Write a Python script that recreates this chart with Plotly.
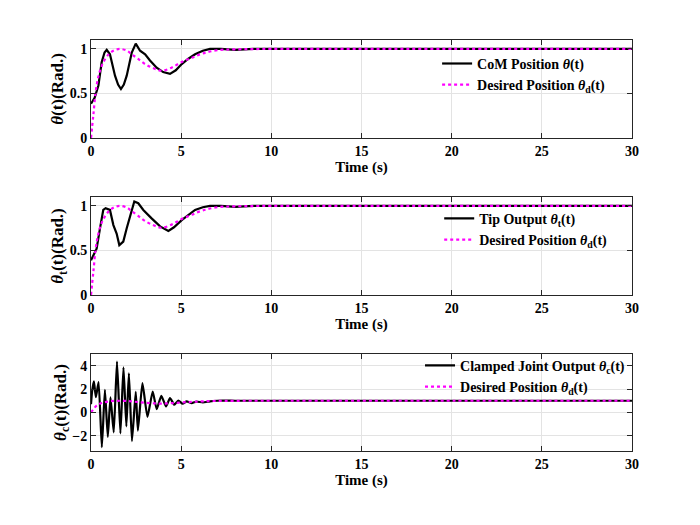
import plotly.graph_objects as go
from plotly.subplots import make_subplots

# --- DATA ---
# desired trajectory, shared by all three panels
t_des = [0, 0.13, 0.31, 0.59, 0.98, 1.3, 1.61, 2.0, 2.26, 2.6, 3.0, 3.5, 3.92,
         4.47, 5.0, 5.58, 6.2, 7.0, 8.0, 10, 15, 20, 30]
y_des = [0, 0.26, 0.59, 0.81, 0.94, 0.985, 1.0, 0.98, 0.94, 0.89, 0.83, 0.78, 0.755,
         0.79, 0.85, 0.90, 0.95, 0.985, 0.995, 1.0, 1.0, 1.0, 1.0]

# CoM position
t_com = [0, 0.2, 0.41, 0.59, 0.75, 0.87, 1.05, 1.33, 1.5, 1.66, 1.82, 1.98, 2.26,
         2.48, 2.72, 3.0, 3.27, 3.64, 4.0, 4.38, 4.7, 5.03, 5.4, 5.77, 6.2, 6.6,
         7.2, 8.0, 9.0, 10, 15, 20, 30]
y_com = [0.385, 0.45, 0.59, 0.85, 0.96, 0.99, 0.94, 0.70, 0.6, 0.55, 0.6, 0.70, 0.96,
         1.06, 0.98, 0.94, 0.87, 0.79, 0.74, 0.72, 0.76, 0.83, 0.89, 0.94, 0.98, 1.0,
         1.0, 0.99, 1.0, 1.0, 1.0, 1.0, 1.0]

# tip output
t_tip = [0, 0.15, 0.31, 0.5, 0.68, 0.81, 1.05, 1.24, 1.42, 1.57, 1.79, 1.98, 2.22,
         2.4, 2.62, 2.9, 3.36, 3.83, 4.29, 4.6, 5.03, 5.4, 5.77, 6.2, 6.6, 7.2, 8,
         9, 10, 15, 20, 30]
y_tip = [0.39, 0.45, 0.52, 0.75, 0.955, 0.975, 0.955, 0.785, 0.69, 0.56, 0.60, 0.75,
         0.94, 1.05, 1.03, 0.955, 0.86, 0.77, 0.72, 0.76, 0.84, 0.9, 0.955, 0.985,
         1.0, 1.0, 0.99, 1.0, 1.0, 1.0, 1.0, 1.0]

# clamped joint output
t_clj = [0, 0.06, 0.16, 0.27, 0.42, 0.6, 0.77, 0.93, 1.08, 1.26, 1.44, 1.63, 1.8,
         1.96, 2.1, 2.27, 2.48, 2.6, 2.85, 3.13, 3.42, 3.64, 3.9, 4.16, 4.38, 4.62,
         4.84, 5.08, 5.3, 5.58, 5.85, 6.2, 6.6, 7.0, 8, 10, 15, 20, 30]
y_clj = [0.7, 1.8, 2.65, 1.3, 2.6, -2.98, 1.93, -2.1, 1.28, -1.7, 4.34, -1.8, 3.85,
         -1.19, 3.35, -2.45, 1.75, -1.55, 2.5, -0.38, 1.79, 0.29, 1.42, 0.51, 1.22, 0.66,
         1.02, 0.74, 0.94, 0.8, 0.93, 0.85, 0.95, 1.0, 1.0, 1.0, 1.0, 1.0, 1.0]

x_ticks = [0, 5, 10, 15, 20, 25, 30]
y_ticks_top = [0, 0.5, 1]
y_ticks_bot = [-2, 0, 2, 4]

# --- STYLE ---
FONT = "Liberation Serif"
BLACK = "#000000"
MAGENTA = "#ff00ff"
GRID = "#e3e3e3"
FRAME = "#262626"

fig = make_subplots(rows=3, cols=1)

panels = [
    (t_com, y_com, "CoM Position <i>θ</i>(t)", "legend", "linear"),
    (t_tip, y_tip, "Tip Output <i>θ</i><sub>t</sub>(t)", "legend2", "linear"),
    (t_clj, y_clj, "Clamped Joint Output <i>θ</i><sub>c</sub>(t)", "legend3", "spline"),
]
for i, (tx, ty, name, leg, shape) in enumerate(panels, start=1):
    fig.add_trace(go.Scatter(x=tx, y=ty, mode="lines", name=name, legend=leg,
                             line=dict(color=BLACK, width=2.2, shape=shape, smoothing=0.5)),
                  row=i, col=1)
    fig.add_trace(go.Scatter(x=t_des, y=y_des, mode="lines",
                             name="Desired Position <i>θ</i><sub>d</sub>(t)", legend=leg,
                             line=dict(color=MAGENTA, width=2.2, dash="dot", shape="spline")),
                  row=i, col=1)

tickfont = dict(family=FONT, size=14, color=BLACK, weight="bold")
ax_common = dict(showline=True, linecolor=FRAME, linewidth=1, mirror="ticks",
                 ticks="inside", ticklen=5, tickcolor=FRAME, showgrid=True,
                 gridcolor=GRID, gridwidth=1, zeroline=False, tickfont=tickfont)

# page is drawn with an 8px offset, domains compensate for it
y_domains = [[0.7524, 0.9390], [0.4533, 0.6400], [0.1562, 0.3410]]
y_titles = ["<i>θ</i>(t)(Rad.)", "<i>θ</i><sub>t</sub>(t)(Rad.)", "<i>θ</i><sub>c</sub>(t)(Rad.)"]
y_ranges = [[0, 1.1], [0, 1.1], [-3.3, 5]]
y_tickvals = [y_ticks_top, y_ticks_top, y_ticks_bot]
xtitle_font = dict(family=FONT, size=15, color=BLACK, weight="bold")
ytitle_font = dict(family=FONT, size=17, color=BLACK, weight="bold")

for i in range(3):
    xa = "xaxis" if i == 0 else f"xaxis{i + 1}"
    ya = "yaxis" if i == 0 else f"yaxis{i + 1}"
    fig.update_layout({
        xa: dict(ax_common, domain=[0.1186, 0.8914], range=[0, 30], tickvals=x_ticks,
                 title=dict(text="Time (s)", font=xtitle_font, standoff=2)),
        ya: dict(ax_common, domain=y_domains[i], range=y_ranges[i], tickvals=y_tickvals[i],
                 title=dict(text=y_titles[i], font=ytitle_font, standoff=1)),
    })

leg_common = dict(bgcolor="rgba(0,0,0,0)", borderwidth=0, xanchor="left", yanchor="top",
                  font=dict(family=FONT, size=14, color=BLACK, weight="bold"),
                  tracegroupgap=0)
fig.update_layout(
    width=700, height=525,
    margin=dict(l=0, r=0, t=0, b=0, autoexpand=False),
    paper_bgcolor="white", plot_bgcolor="white",
    legend=dict(leg_common, x=0.613, y=0.924),
    legend2=dict(leg_common, x=0.616, y=0.629),
    legend3=dict(leg_common, x=0.5886, y=0.349),
)

fig.write_html("out.html")
